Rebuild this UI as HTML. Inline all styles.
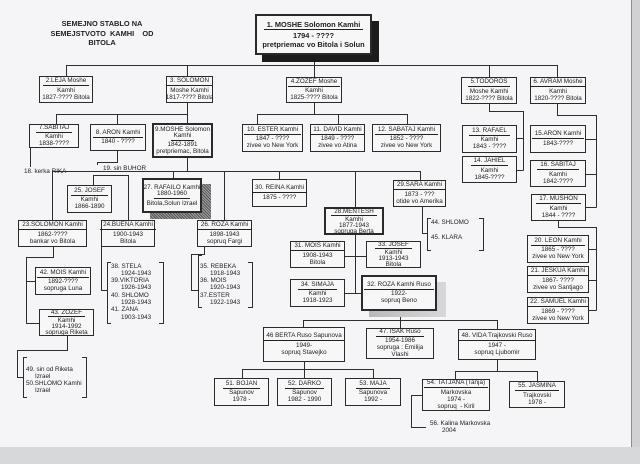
<!DOCTYPE html>
<html><head><meta charset="utf-8">
<style>
*{margin:0;padding:0}
html,body{width:640px;height:464px;overflow:hidden;background:#f4f4f6}
#p{position:relative;width:640px;height:464px;overflow:hidden;background:#f5f5f7;font-family:"Liberation Sans",Arial,sans-serif;color:#222}
.b{position:absolute;box-sizing:border-box;border:1px solid #2a2a2a;background:#f7f7f8;display:flex;flex-direction:column;justify-content:center;align-items:center;font-size:6.3px;line-height:7px;text-align:center;white-space:nowrap;overflow:visible}
.b div{white-space:nowrap}
.u{border-bottom:1px solid #222;padding:0 3px;line-height:6.6px;margin-bottom:.5px}
.k2{border-width:2px}
.t{position:absolute;font-size:6.3px;line-height:7px;white-space:nowrap;color:#222}
svg{position:absolute;left:0;top:0}
</style></head><body><div id="p">

<!-- page edges -->
<div style="position:absolute;left:632px;top:0;width:8px;height:464px;background:#cfd1d3"></div>
<div style="position:absolute;left:631px;top:0;width:1px;height:448px;background:#8a8c8e"></div>
<div style="position:absolute;left:0;top:447px;width:640px;height:17px;background:#d6d8da"></div>

<!-- title -->
<div style="position:absolute;left:40px;top:19px;width:124px;text-align:center;font-weight:bold;font-size:7.4px;line-height:9.6px;white-space:pre;color:#222">SEMEJNO STABLO NA
SEMEJSTVOTO  KAMHI    OD
BITOLA</div>

<svg width="640" height="464" viewBox="0 0 640 464" fill="none" stroke="#2e2e2e" stroke-width="1">
<!-- top generation -->
<path d="M66.5 76V65.5H557.5V77"/>
<path d="M187.5 65.5V76M314.5 62V77M489.5 65.5V77"/>
<!-- Solomon 3 -->
<path d="M187.5 103V114.5M56.5 124V114.5H187.5V123M117.5 114.5V124"/>
<!-- Zozef 4 -->
<path d="M314.5 103V114.5M257.5 124V114.5H407.5V124M338.5 114.5V124"/>
<!-- Todoros 5 -->
<path d="M489.5 104V111.5H523.5V170.5M517 138.5H523.5M517 170.5H523.5"/>
<!-- Avram 6 -->
<path d="M557.5 104V115.5H596.5V207.5M586 139.5H596.5M586 174.5H596.5M586 207.5H596.5"/>
<!-- Mushon 17 -->
<path d="M558.5 221V227.5H596.5V310.5M589 249.5H596.5M589 280.5H596.5M589 310.5H596.5"/>
<!-- Sabitaj 7 -> Rika -->
<path d="M30.5 148V167"/>
<!-- Aron 8 -> Buhor -->
<path d="M117.5 151V162.5H97.5V165"/>
<!-- Moshe 9 children -->
<path d="M187.5 158V171.5M52.5 220V171.5H420.5V180"/>
<path d="M93.5 185V175.5H128.5V220"/>
<path d="M173.5 171.5V178M224.5 171.5V220M279.5 171.5V179M355.5 171.5V293.5"/>
<path d="M345 256.5H366M345 293.5H361"/>
<!-- Sara -->
<path d="M422.5 207V233.5H427"/>
<!-- Solomon 23 -->
<path d="M53.5 247V257.5H26.5V323.5H39M26.5 281.5H35"/>
<!-- Zozef 43 -->
<path d="M67.5 336V350.5H17.5V377.5H23"/>
<!-- Buena -->
<path d="M101.5 247V290.5H107"/>
<!-- Roza 26 -->
<path d="M204.5 247V254.5H191.5V290.5H198"/>
<!-- Roza 32 children -->
<path d="M400.5 317V320.5M303.5 327V320.5H497.5V329M400.5 320.5V328"/>
<!-- Berta -->
<path d="M304.5 362V369.5M242.5 378V369.5H373.5V378M304.5 369.5V378"/>
<!-- Vida -->
<path d="M497.5 360V371.5M455.5 379V371.5H537.5V381"/>
<!-- Tatjana -> Kalina -->
<path d="M422 395.5H411.5V427.5H426"/>
<!-- brackets -->
<path d="M111 262.5H107.5V323.5H111M159 262.5H163.5V323.5H159"/>
<path d="M202 255.5H198.5V307.5H202M248 262.5H252.5V307.5H248"/>
<path d="M431 218.5H427.5V250.5H431M479 218.5H483.5V250.5H479"/>
<path d="M27 357.5H23.5V397.5H27M82 357.5H86.5V397.5H82"/>
</svg>

<!-- shadows -->
<div style="position:absolute;left:262px;top:21px;width:117px;height:41px;background:#1c1c1c"></div>
<div style="position:absolute;left:150px;top:184px;width:61px;height:35px;background:repeating-linear-gradient(45deg,#5a5a5a 0 1px,#9a9a9a 1px 2px)"></div>
<div style="position:absolute;left:369px;top:282px;width:77px;height:35px;background:linear-gradient(90deg,#b8b8ba,#d8d8da)"></div>

<!-- boxes -->
<div class="b k2" style="left:255px;top:14px;width:117px;height:41px;font-size:7.4px;line-height:9px;font-weight:bold"><div class="u" style="line-height:8.5px">1. MOSHE Solomon Kamhi</div><div>1794 - ????</div><div>pretpriemac vo Bitola i Solun</div></div>

<div class="b" style="left:39px;top:76px;width:54px;height:27px"><div class="u">2.LEJA Moshe</div><div>Kamhi</div><div>1827-???? Bitola</div></div>
<div class="b" style="left:166px;top:76px;width:47px;height:27px;border-width:1.5px"><div class="u">3. SOLOMON</div><div>Moshe Kamhi</div><div>1817-???? Bitola</div></div>
<div class="b" style="left:286px;top:77px;width:56px;height:26px"><div class="u">4.ZOZEF Moshe</div><div>Kamhi</div><div>1825-???? Bitola</div></div>
<div class="b" style="left:461px;top:77px;width:56px;height:27px"><div class="u">5.TODOROS</div><div>Moshe Kamhi</div><div>1822-???? Bitola</div></div>
<div class="b" style="left:530px;top:77px;width:56px;height:27px"><div class="u">6. AVRAM Moshe</div><div>Kamhi</div><div>1820-???? Bitola</div></div>

<div class="b" style="left:29px;top:124px;width:50px;height:24px"><div class="u">7.SABITAJ</div><div>Kamhi</div><div>1838-????</div></div>
<div class="b" style="left:90px;top:124px;width:56px;height:27px"><div class="u">8. ARON Kamhi</div><div>1840 - ????</div></div>
<div class="b k2" style="left:152px;top:123px;width:61px;height:35px"><div>9.MOSHE Solomon</div><div class="u">Kamhi</div><div>1842-1891</div><div>pretpriemac, Bitola</div></div>
<div class="b" style="left:242px;top:124px;width:61px;height:28px"><div class="u">10. ESTER Kamhi</div><div>1847 - ????</div><div>zivee vo New York</div></div>
<div class="b" style="left:310px;top:124px;width:55px;height:28px"><div class="u">11. DAVID Kamhi</div><div>1849 - ????</div><div>zivee vo Atina</div></div>
<div class="b" style="left:372px;top:124px;width:69px;height:28px"><div class="u">12. SABATAJ Kamhi</div><div>1852 - ????</div><div>zivee vo New York</div></div>
<div class="b" style="left:462px;top:125px;width:55px;height:28px"><div class="u">13. RAFAEL</div><div>Kamhi</div><div>1843 - ????</div></div>
<div class="b" style="left:462px;top:156px;width:55px;height:27px"><div class="u">14. JAHIEL</div><div>Kamhi</div><div>1845-????</div></div>
<div class="b" style="left:530px;top:125px;width:56px;height:28px"><div class="u">15.ARON Kamhi</div><div>1843-????</div></div>
<div class="b" style="left:530px;top:160px;width:56px;height:27px"><div class="u">16. SABITAJ</div><div>Kamhi</div><div>1842-????</div></div>
<div class="b" style="left:531px;top:194px;width:55px;height:27px"><div class="u">17. MUSHON</div><div>Kamhi</div><div>1844 - ????</div></div>
<div class="b" style="left:527px;top:235px;width:62px;height:28px"><div class="u">20. LEON Kamhi</div><div>1865 - ????</div><div>zivee vo New York</div></div>
<div class="b" style="left:527px;top:266px;width:62px;height:27px"><div class="u">21. JESKUA Kamhi</div><div>1867- ????</div><div>zivee vo Santjago</div></div>
<div class="b" style="left:527px;top:297px;width:62px;height:27px"><div class="u">22. SAMUEL Kamhi</div><div>1869 - ????</div><div>zivee vo New York</div></div>

<div class="t" style="left:24px;top:168px">18. kerka RIKA</div>
<div class="t" style="left:103px;top:164.5px">19. sin BUHOR</div>

<div class="b" style="left:67px;top:185px;width:45px;height:28px"><div class="u">25. JOSEF</div><div>Kamhi</div><div>1866-1890</div></div>
<div class="b k2" style="left:142px;top:178px;width:60px;height:35px"><div>27. RAFAILO Kamhi</div><div class="u">1880-1960</div><div>Bitola,Solun Izrael</div></div>
<div class="b" style="left:18px;top:220px;width:69px;height:27px"><div class="u">23.SOLOMON Kamhi</div><div>1862-????</div><div>bankar vo Bitola</div></div>
<div class="b" style="left:101px;top:220px;width:54px;height:27px"><div class="u">24.BUENA Kamhi</div><div>1900-1943</div><div>Bitola</div></div>
<div class="b" style="left:197px;top:220px;width:55px;height:27px"><div class="u">26. ROZA Kamhi</div><div>1898-1943</div><div>sopruq Fargi</div></div>
<div class="b" style="left:252px;top:179px;width:55px;height:28px"><div class="u">30. REINA Kamhi</div><div>1875 - ????</div></div>
<div class="b" style="left:393px;top:180px;width:53px;height:27px"><div class="u">29.SARA Kamhi</div><div>1873 - ???</div><div>otide vo Amerika</div></div>
<div class="b k2" style="left:324px;top:207px;width:60px;height:28px;line-height:6.4px;justify-content:flex-start"><div class="u" style="line-height:6px">28.MENTESH</div><div>Kamhi</div><div>1877-1943</div><div>sopruga Berta</div></div>
<div class="b" style="left:290px;top:241px;width:55px;height:27px"><div class="u">31. MOIS Kamhi</div><div>1908-1943</div><div>Bitola</div></div>
<div class="b" style="left:366px;top:241px;width:55px;height:27px;line-height:6.4px;justify-content:flex-start"><div class="u" style="line-height:6px">33. JOSEF</div><div>Kamhi</div><div>1913-1943</div><div>Bitola</div></div>
<div class="b" style="left:290px;top:279px;width:55px;height:28px"><div class="u">34. SIMAJA</div><div>Kamhi</div><div>1918-1923</div></div>
<div class="b k2" style="left:361px;top:275px;width:76px;height:36px"><div class="u">32. ROZA Kamhi Ruso</div><div>1922-</div><div>sopruq Beno</div></div>

<div class="b" style="left:35px;top:267px;width:56px;height:28px"><div class="u">42. MOIS Kamhi</div><div>1892-????</div><div>sopruga Luna</div></div>
<div class="b" style="left:39px;top:309px;width:55px;height:27px;line-height:6.4px;justify-content:flex-start"><div class="u" style="line-height:6px">43. ZOZEF</div><div>Kamhi</div><div>1914-1992</div><div>sopruga Riketa</div></div>

<!-- lists -->
<div class="t" style="left:111px;top:262.5px;line-height:7.3px">38. STELA<br><span style="padding-left:10px">1924-1943</span><br>39.VIKTORIA<br><span style="padding-left:10px">1926-1943</span><br>40. SHLOMO<br><span style="padding-left:10px">1928-1943</span><br>41. ZANA<br><span style="padding-left:10px">1903-1943</span></div>
<div class="t" style="left:200px;top:262.5px;line-height:7.3px">35. REBEKA<br><span style="padding-left:10px">1918-1943</span><br>36. MOIS<br><span style="padding-left:10px">1920-1943</span><br>37.ESTER<br><span style="padding-left:10px">1922-1943</span></div>
<div class="t" style="left:431px;top:218.5px">44. SHLOMO</div>
<div class="t" style="left:431px;top:233.5px">45. KLARA</div>
<div class="t" style="left:26px;top:365.5px;line-height:7.3px">49. sin od Riketa<br><span style="padding-left:9px">Izrael</span><br>50.SHLOMO Kamhi<br><span style="padding-left:9px">Izrael</span></div>

<div class="b" style="left:263px;top:327px;width:82px;height:35px"><div class="u">46 BERTA Ruso Sapunova</div><div>1949-</div><div>sopruq Stavejko</div></div>
<div class="b" style="left:366px;top:328px;width:68px;height:31px"><div class="u">47. ISAK Ruso</div><div>1954-1986</div><div>sopruga : Emilija</div><div>Vlashi</div></div>
<div class="b" style="left:458px;top:329px;width:78px;height:31px"><div class="u">48. VIDA Trajkovski Ruso</div><div>1947 -</div><div>sopruq Ljubomir</div></div>

<div class="b" style="left:214px;top:378px;width:55px;height:28px"><div class="u">51. BOJAN</div><div>Sapunov</div><div>1978 -</div></div>
<div class="b" style="left:277px;top:378px;width:55px;height:28px"><div class="u">52. DARKO</div><div>Sapunov</div><div>1982 - 1990</div></div>
<div class="b" style="left:345px;top:378px;width:56px;height:28px"><div class="u">53. MAJA</div><div>Sapunova</div><div>1992 -</div></div>
<div class="b" style="left:422px;top:379px;width:68px;height:32px"><div class="u">54. TATJANA (Tanja)</div><div>Markovska</div><div>1974 -</div><div>sopruq &nbsp;- Kiril</div></div>
<div class="b" style="left:509px;top:381px;width:56px;height:27px"><div class="u">55. JASMINA</div><div>Trajkovski</div><div>1978 -</div></div>

<div class="t" style="left:430px;top:419.5px">56. Kalina Markovska</div>
<div class="t" style="left:442px;top:426.5px">2004</div>

</div></body></html>
